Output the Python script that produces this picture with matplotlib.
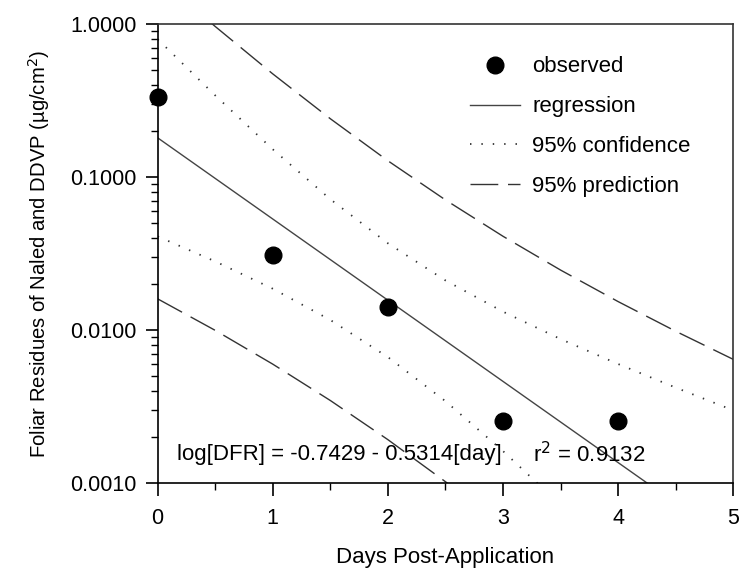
import numpy as np
import matplotlib
matplotlib.use("Agg")
import matplotlib.pyplot as plt
from matplotlib.ticker import FixedLocator, LogLocator, NullFormatter

plt.rcParams["font.family"] = ["Liberation Sans", "DejaVu Sans"]

# observed foliar residues
days = [0, 1, 2, 3, 4]
observed = [0.336, 0.031, 0.0141, 0.00255, 0.00255]

# regression log[DFR] = a + b*day
intercept = -0.7429
slope = -0.5314
r2 = 0.9132

# band values at half-day steps
band_days = [0, 0.5, 1, 1.5, 2, 2.5, 3, 3.5, 4, 4.5, 5]
conf_upper = [0.7985, 0.3423, 0.1520, 0.07162, 0.03688, 0.02107, 0.01316,
              0.008713, 0.005981, 0.004192, 0.002977]
conf_lower = [0.04092, 0.02808, 0.01860, 0.01161, 0.006635, 0.003416,
              0.001610, 0.0007148, 0.0003064, 0.0001285, 0.0000533]
pred_upper = [2.046, 0.9678, 0.4737, 0.2410, 0.1279, 0.07090, 0.04099,
              0.02464, 0.01532, 0.00980, 0.006415]
pred_lower = [0.01597, 0.00993, 0.005969, 0.003451, 0.001913, 0.001015,
              0.0005165, 0.0002528, 0.0001196, 0.0000550, 0.0000247]

fig = plt.figure(figsize=(7.41, 5.71), dpi=100)
ax = fig.add_axes([0.2128, 0.1546, 0.7768, 0.8028])

line_col = "#333333"
xr = np.array([0, 5])
ax.plot(xr, 10 ** (intercept + slope * xr), color="#444444", lw=1.0,
        label="regression")
ax.plot(band_days, conf_upper, color=line_col, lw=1.3, dashes=(0.8, 5.5),
        label="95% confidence")
ax.plot(band_days, conf_lower, color=line_col, lw=1.3, dashes=(0.8, 5.5))
ax.plot(band_days, pred_upper, color=line_col, lw=1.0, dashes=(20, 7),
        label="95% prediction")
ax.plot(band_days, pred_lower, color=line_col, lw=1.0, dashes=(20, 7))
ax.plot(days, observed, "o", color="black", ms=12, clip_on=False,
        label="observed", zorder=5)

ax.set_yscale("log")
ax.set_xlim(0, 5)
ax.set_ylim(0.001, 1.0)
ax.set_yticks([0.001, 0.01, 0.1, 1.0])
ax.set_yticklabels(["0.0010", "0.0100", "0.1000", "1.0000"])
ax.yaxis.set_minor_locator(LogLocator(base=10, subs=np.arange(2, 10)))
ax.yaxis.set_minor_formatter(NullFormatter())
ax.set_xticks([0, 1, 2, 3, 4, 5])
ax.xaxis.set_minor_locator(FixedLocator([0.5, 1.5, 2.5, 3.5, 4.5]))

ax.tick_params(which="major", direction="out", length=9, width=1.2,
               labelsize=15.5, pad=6)
ax.tick_params(axis="x", which="major", pad=9)
ax.tick_params(which="minor", direction="out", length=5, width=1.0)
for s in ax.spines.values():
    s.set_linewidth(1.2)
ax.spines["top"].set_color("#333333")
ax.spines["right"].set_color("#333333")

ax.set_xlabel("Days Post-Application", fontsize=16, labelpad=13)
ax.set_ylabel("Foliar Residues of Naled and DDVP (\u00b5g/cm$^2$)",
              fontsize=14.6, labelpad=13.5)

ax.text(0.165, 0.00153, "log[DFR] = -0.7429 - 0.5314[day]", fontsize=16,
        va="center", ha="left")
ax.text(3.26, 0.00153, "r$^2$ = 0.9132", fontsize=16, va="center",
        ha="left")

handles, labels = ax.get_legend_handles_labels()
order = [3, 0, 1, 2]
ax.legend([handles[i] for i in order], [labels[i] for i in order],
          loc="upper left", bbox_to_anchor=(0.5426, 0.93), frameon=False,
          fontsize=16, handlelength=2.25, labelspacing=0.85,
          handletextpad=0.55, borderpad=0, borderaxespad=0)

fig.savefig("out.png", dpi=100)
